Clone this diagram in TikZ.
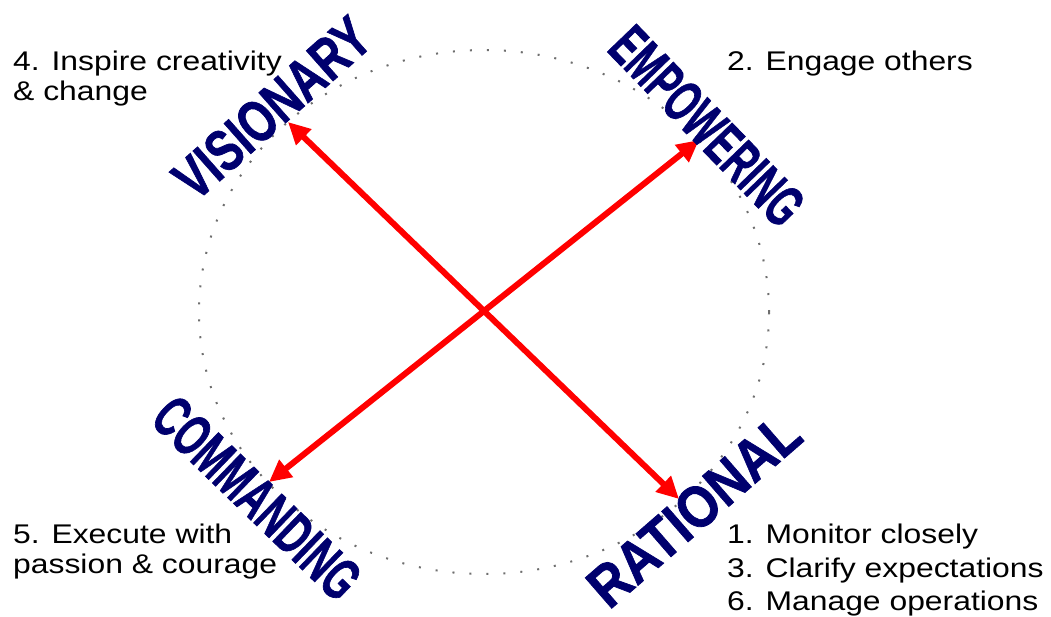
\documentclass[tikz,border=0pt]{standalone}
\usepackage{fontspec}
\usepackage{graphicx}
\usetikzlibrary{arrows.meta}
\setmainfont{Liberation Sans}
\newfontfamily\txtfont[FakeStretch=1.18]{Liberation Sans}
\newfontfamily\heavyfont[BoldFeatures={FakeBold=1.3}]{Liberation Sans}
\definecolor{navy}{RGB}{0,0,110}
\definecolor{dotgray}{RGB}{110,110,110}
\definecolor{arrowred}{RGB}{255,0,0}
\tikzset{
  stylelabel/.style={inner sep=0pt, text=navy, font=\heavyfont\bfseries},
  noteline/.style={inner sep=0pt, anchor=base west, text=black,
    font=\txtfont\fontsize{27}{32}\selectfont},
  redarrow/.style={draw=arrowred, line width=6pt,
    {Triangle[length=22pt,width=21pt]}-{Triangle[length=22pt,width=21pt]}},
  dotring/.style={draw=dotgray, line width=2pt, dash pattern=on 2pt off 15pt},
}
\newcommand{\fitlabel}[2]{\resizebox{#1}{41pt}{#2}}
\begin{document}
\begin{tikzpicture}[x=1pt,y=-1pt]
\useasboundingbox (0,0) rectangle (1051,616);
\draw[dotring] (484,312) ellipse [x radius=285pt, y radius=262pt];
\coordinate (vis) at (288,122);
\coordinate (rat) at (679,499);
\coordinate (emp) at (699,140);
\coordinate (com) at (269,482);
\draw[redarrow] (vis) -- (rat);
\draw[redarrow] (emp) -- (com);
\node[stylelabel, rotate=41.5] (visionary) at (272,108) {\fitlabel{240pt}{VISIONARY}};
\node[stylelabel, rotate=-46] (empowering) at (707,126) {\fitlabel{250pt}{EMPOWERING}};
\node[stylelabel, rotate=-44] (commanding) at (257,498) {\fitlabel{262pt}{COMMANDING}};
\node[stylelabel, rotate=41] (rational) at (694,510) {\fitlabel{260pt}{RATIONAL}};
\node[noteline] (tl1) at (13,70) {4. Inspire creativity};
\node[noteline] (tl2) at (13,100) {\& change};
\node[noteline] (tr1) at (727,70) {2. Engage others};
\node[noteline] (bl1) at (13,543) {5. Execute with};
\node[noteline] (bl2) at (13,573) {passion \& courage};
\node[noteline] (br1) at (727,543) {1. Monitor closely};
\node[noteline] (br2) at (727,577) {3. Clarify expectations};
\node[noteline] (br3) at (727,610) {6. Manage operations};
\end{tikzpicture}
\end{document}
